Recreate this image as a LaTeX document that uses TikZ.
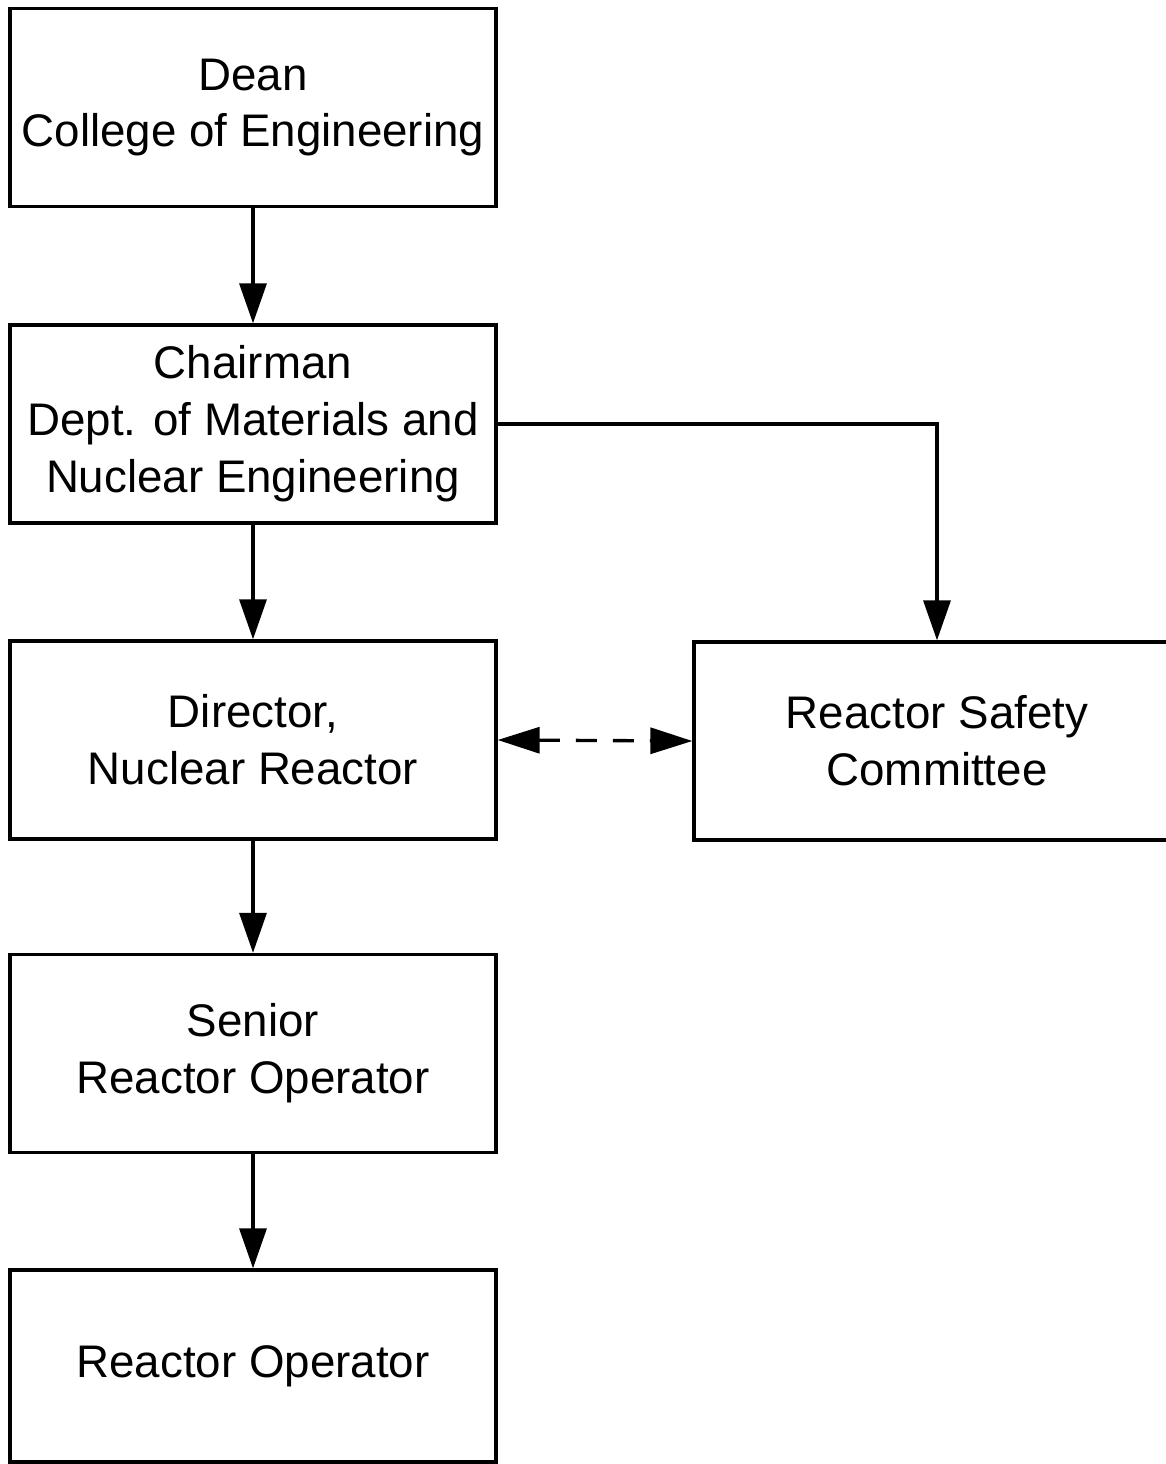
\documentclass[tikz,border=0pt]{standalone}
\usepackage{fontspec}
\setmainfont{Liberation Sans}
\usetikzlibrary{arrows.meta}

\begin{document}
\begin{tikzpicture}[
  org01box/.style = {draw, line width=0.95pt, minimum width=4.86cm, minimum height=1.98cm,
    align=center, inner sep=0pt, font=\fontsize{13}{16.2}\selectfont},
  org01arrow/.style = {line width=0.95pt, -{Triangle[length=4mm, width=2.7mm]}},
  org01link/.style = {line width=0.95pt, dash pattern=on 2.1mm off 1.6mm,
    {Triangle[length=4.2mm, width=2.6mm]}-{Triangle[length=4.2mm, width=2.6mm]}}
]
  % page
  \useasboundingbox (0,0) rectangle (11.65,-14.64);
  % chain of command
  \node[org01box] (dean) at (2.53,-1.075) {Dean\\College of Engineering};
  \node[org01box] (chair) at (2.53,-4.24)
    {Chairman\\Dept. of Materials and\\Nuclear Engineering};
  \node[org01box] (director) at (2.53,-7.40) {Director,\\Nuclear Reactor};
  \node[org01box] (senior) at (2.53,-10.535) {Senior\\Reactor Operator};
  \node[org01box, minimum height=1.92cm] (operator) at (2.53,-13.66) {Reactor Operator};
  % committee
  \node[org01box] (safety) at (9.37,-7.41) {Reactor Safety\\Committee};
  % arrows
  \draw[org01arrow] (dean.south) -- (chair.north);
  \draw[org01arrow] (chair.south) -- (director.north);
  \draw[org01arrow] (director.south) -- (senior.north);
  \draw[org01arrow] (senior.south) -- (operator.north);
  \draw[org01arrow] (chair.east) -| (safety.north);
  % advice
  \draw[org01link] (director.east) -- (safety.west);
\end{tikzpicture}
\end{document}
